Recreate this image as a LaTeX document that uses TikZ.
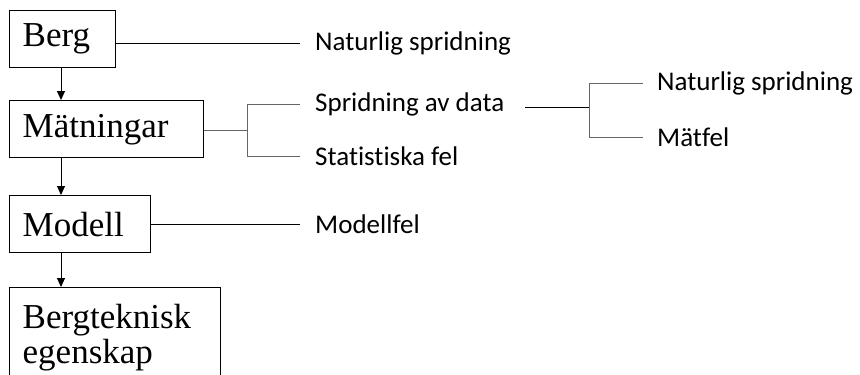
\documentclass[tikz,border=0pt]{standalone}
\usepackage{fontspec}
\setmainfont{Liberation Serif}
\newfontfamily\calib[Ligatures=NoCommon]{Carlito}
\usetikzlibrary{positioning,arrows.meta}

\begin{document}
\begin{tikzpicture}[x=1pt,y=-1pt,
  box/.style={draw=black,rectangle,anchor=north west,align=left,line width=1.4pt,inner xsep=13pt,minimum height=57pt,font=\fontsize{35}{35}\selectfont},
  lbl/.style={anchor=west,inner ysep=0pt,inner xsep=15pt,font=\calib\fontsize{27}{30}\selectfont},
  rel/.style={-{Triangle[length=9pt,width=8pt]},draw=black,line width=0.9pt},
  line/.style={draw=black,line width=0.9pt},
  tie/.style={draw=black!60,line width=0.9pt}]
  \useasboundingbox (0,0) rectangle (860,375);
  \node[box,text width=80pt] (berg) at (9,10) {Berg};
  \node[box,text width=168pt] (mat) at (9,100) {Mätningar};
  \node[box,text width=115pt] (mod) at (9,195) {Modell};
  \node[box,text width=185pt,minimum height=100pt,anchor=north west] (egen) at (9,287) {Bergteknisk\\egenskap};
  \draw[rel] (berg.south -| 61,0) -- (mat.north -| 61,0);
  \draw[rel] (mat.south -| 61,0) -- (mod.north -| 61,0);
  \draw[rel] (mod.south -| 61,0) -- (egen.north -| 61,0);
  % labels
  \node[lbl] (nat) at (300,43) {Naturlig spridning};
  \node[lbl] (spr) at (300,104) {Spridning av data};
  \node[lbl] (stat) at (300,156) {Statistiska fel};
  \node[lbl] (fel) at (300,224) {Modellfel};
  \node[lbl,inner xsep=14pt] (nat2) at (643,83) {Naturlig spridning};
  \node[lbl,inner xsep=14pt] (mf) at (643,137) {Mätfel};
  \coordinate (b1) at (247,130);
  \coordinate (b2) at (589,107);
  % connectors
  \draw[line] (berg.east |- nat.west) -- (nat.west);
  \draw[line] (mod.east |- fel.west) -- (fel.west);
  \draw[tie] (mat.east |- b1) -- (b1);
  \draw[tie] (spr.west) -| (b1 |- stat.west) -- (stat.west);
  \draw[line] ([xshift=6pt]spr.east |- b2) -- (b2);
  \draw[tie] (nat2.west) -| (b2 |- mf.west) -- (mf.west);
\end{tikzpicture}
\end{document}
